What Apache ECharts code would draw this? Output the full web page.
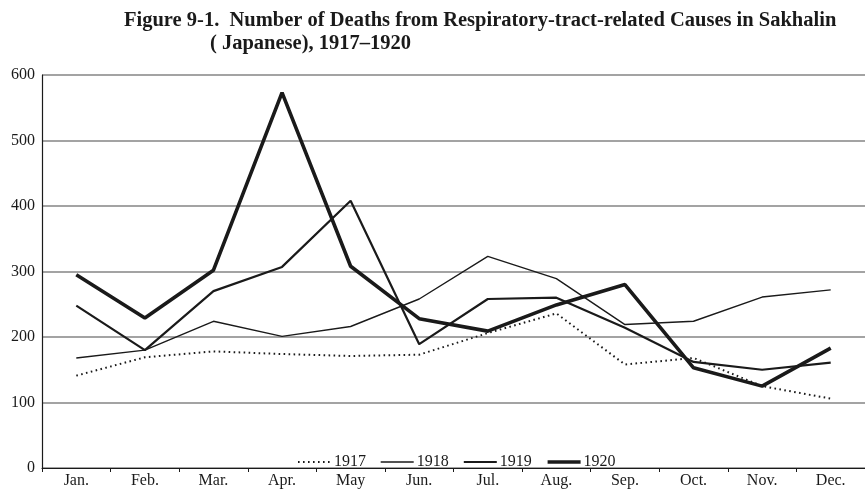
<!DOCTYPE html>
<html>
<head>
<meta charset="utf-8">
<script src="https://cdn.jsdelivr.net/npm/echarts@6/dist/echarts.min.js"></script>
<style>
  html, body { margin: 0; padding: 0; background: #fff; }
  #chart { width: 865px; height: 490px; }
</style>
</head>
<body>
<div id="chart"></div>
<script>
// months on the x axis
const months = ['Jan.', 'Feb.', 'Mar.', 'Apr.', 'May', 'Jun.', 'Jul.', 'Aug.', 'Sep.', 'Oct.', 'Nov.', 'Dec.']
// deaths per month
const deaths1917 = [141, 169, 178, 174, 171, 173, 206, 236, 158, 168, 125, 106]
const deaths1918 = [168, 180, 224, 201, 216, 258, 323, 289, 219, 224, 261, 272]
const deaths1919 = [248, 180, 270, 307, 408, 189, 258, 260, 214, 162, 150, 161]
const deaths1920 = [295, 229, 302, 573, 308, 228, 209, 249, 280, 153, 125, 183]
const yearNames = ['1917', '1918', '1919', '1920']
const yearWidths = [2, 1.4, 2.2, 3.6]

const serif = '"Liberation Serif", "DejaVu Serif", serif'
const ink = '#1a1a1a'
const dots = [1.6, 3.4]

const chart = echarts.init(document.getElementById('chart'))

function lineSeries(name, data, width, type) {
  return {
    name: name,
    type: 'line',
    data: data,
    symbol: 'none',
    silent: true,
    animation: false,
    itemStyle: { color: ink },
    lineStyle: { color: ink, width: width, type: type, cap: 'butt' }
  }
}

const option = {
  backgroundColor: '#fff',
  title: [
    {
      text: 'Figure 9-1.  Number of Deaths from Respiratory-tract-related Causes in Sakhalin',
      left: 119,
      top: 5,
      textStyle: { fontFamily: serif, fontWeight: 'bold', fontSize: 20.5, color: ink }
    },
    {
      text: '( Japanese), 1917\u20131920',
      left: 205,
      top: 28,
      textStyle: { fontFamily: serif, fontWeight: 'bold', fontSize: 20.5, color: ink }
    }
  ],
  /*图例，只显示线条*/
  legend: {
    data: yearNames.map((name, i) => ({
      name: name,
      lineStyle: { width: yearWidths[i], type: i === 0 ? dots : 'solid', color: ink }
    })),
    left: 292,
    top: 449,
    itemWidth: 33,
    itemHeight: 14,
    itemGap: 14,
    itemStyle: { opacity: 0 },
    textStyle: { fontFamily: serif, fontSize: 16, color: ink, padding: [0, 0, 0, -2] }
  },
  grid: {
    left: 42,
    right: -7,
    top: 75,
    bottom: 22
  },
  xAxis: {
    type: 'category',
    data: months,
    boundaryGap: true,
    axisLine: { lineStyle: { color: ink, width: 1.2 } },
    axisTick: { show: true, length: 4, lineStyle: { color: ink } },
    axisLabel: { fontFamily: serif, fontSize: 16, color: ink, margin: 5 },
    splitLine: { show: false }
  },
  yAxis: {
    type: 'value',
    min: 0,
    max: 600,
    interval: 100,
    axisLine: { show: true, lineStyle: { color: ink, width: 1.2 } },
    axisTick: { show: false },
    axisLabel: { fontFamily: serif, fontSize: 16, color: ink, margin: 7 },
    splitLine: { lineStyle: { color: '#858585', width: 1.5 } }
  },
  series: [
    lineSeries('1917', deaths1917, yearWidths[0], dots),
    lineSeries('1918', deaths1918, yearWidths[1], 'solid'),
    lineSeries('1919', deaths1919, yearWidths[2], 'solid'),
    lineSeries('1920', deaths1920, yearWidths[3], 'solid')
  ]
}
chart.setOption(option)
</script>
</body>
</html>
